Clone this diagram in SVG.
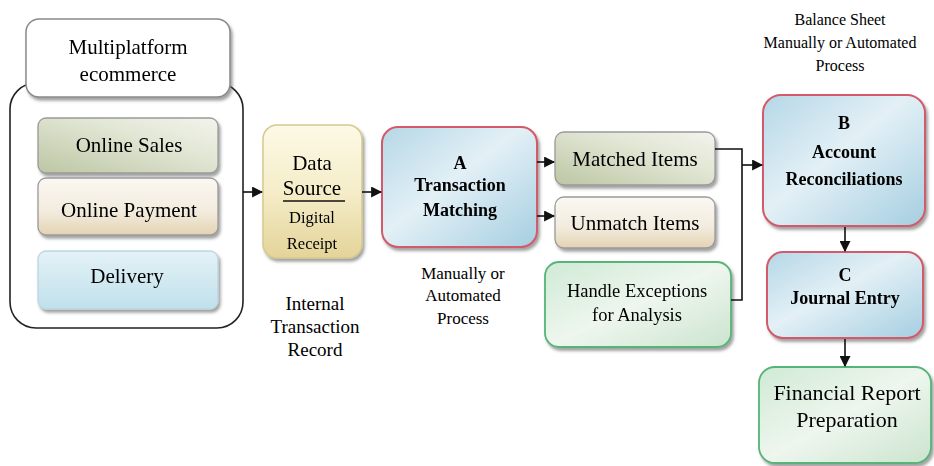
<svg xmlns="http://www.w3.org/2000/svg" width="934" height="466" viewBox="0 0 934 466">
  <style>
    text { font-family: "Liberation Serif", "Times New Roman", serif; fill: #000; text-anchor: middle; }
    .b { font-weight: bold; }
    .conn { stroke: #111; stroke-width: 1.6; fill: none; }
    .box { filter: url(#sh); }
  </style>
  <defs>
    <filter id="sh" x="-10%" y="-10%" width="125%" height="130%">
      <feDropShadow dx="2" dy="3" stdDeviation="1.6" flood-color="#555" flood-opacity="0.55"/>
    </filter>
    <marker id="arr" viewBox="0 0 10 10" refX="9" refY="5" markerWidth="11" markerHeight="11" markerUnits="userSpaceOnUse" orient="auto">
      <path d="M0,0 L10,5 L0,10 Z" fill="#111"/>
    </marker>
    <linearGradient id="gGreenGray" x1="0" y1="1" x2="1" y2="0">
      <stop offset="0" stop-color="#bcc6a3"/>
      <stop offset="0.6" stop-color="#e1e6d4"/>
      <stop offset="1" stop-color="#f3f3ec"/>
    </linearGradient>
    <linearGradient id="gBeige" x1="0" y1="0" x2="0" y2="1">
      <stop offset="0" stop-color="#fbf8f3"/>
      <stop offset="0.6" stop-color="#f2ebdd"/>
      <stop offset="1" stop-color="#e3d3b3"/>
    </linearGradient>
    <linearGradient id="gLightBlue" x1="0" y1="0" x2="0" y2="1">
      <stop offset="0" stop-color="#e4f2f7"/>
      <stop offset="1" stop-color="#c0e0eb"/>
    </linearGradient>
    <linearGradient id="gYellow" x1="0" y1="0" x2="0" y2="1">
      <stop offset="0" stop-color="#fdf9e6"/>
      <stop offset="0.5" stop-color="#f5edc9"/>
      <stop offset="1" stop-color="#e4d499"/>
    </linearGradient>
    <linearGradient id="gBlue" x1="0" y1="0" x2="1" y2="1">
      <stop offset="0" stop-color="#b5d7e7"/>
      <stop offset="0.45" stop-color="#e3f0f6"/>
      <stop offset="1" stop-color="#a5cee1"/>
    </linearGradient>
    <linearGradient id="gGreen" x1="0" y1="0" x2="1" y2="1">
      <stop offset="0" stop-color="#d0ead5"/>
      <stop offset="0.5" stop-color="#eef6ee"/>
      <stop offset="1" stop-color="#cbe4ce"/>
    </linearGradient>
  </defs>

  <!-- Multiplatform container -->
  <g id="container">
    <rect x="10" y="83" width="233" height="245" rx="26" fill="#fff" stroke="#222" stroke-width="1.6"/>
  </g>
  <g id="multiplatform" class="box">
    <rect x="26" y="19" width="204" height="78" rx="13" fill="#fff" stroke="#8a8a8a" stroke-width="1.5"/>
    <text x="128" y="54" font-size="21">Multiplatform</text>
    <text x="128" y="81" font-size="21">ecommerce</text>
  </g>
  <g id="online-sales" class="box">
    <rect x="38" y="118" width="180" height="55" rx="8" fill="url(#gGreenGray)" stroke="#9a9a9a" stroke-width="1.3"/>
    <text x="129" y="152" font-size="21">Online Sales</text>
  </g>
  <g id="online-payment" class="box">
    <rect x="38" y="178" width="180" height="57" rx="8" fill="url(#gBeige)" stroke="#9a9a9a" stroke-width="1.3"/>
    <text x="129" y="217" font-size="21">Online Payment</text>
  </g>
  <g id="delivery" class="box">
    <rect x="38" y="251" width="180" height="58" rx="8" fill="url(#gLightBlue)" stroke="#bcd6e0" stroke-width="1.3"/>
    <text x="127" y="283" font-size="21">Delivery</text>
  </g>

  <!-- Data Source -->
  <g id="data-source" class="box">
    <rect x="263" y="125" width="99" height="133" rx="14" fill="url(#gYellow)" stroke="#d6c98f" stroke-width="1.5"/>
    <text x="312" y="170" font-size="21">Data</text>
    <text x="312" y="195" font-size="21">Source</text>
    <line x1="283" y1="201" x2="345" y2="201" stroke="#111" stroke-width="1.3"/>
    <text x="312" y="223" font-size="16.5">Digital</text>
    <text x="312" y="249" font-size="16.5">Receipt</text>
  </g>
  <g id="label-internal">
    <text x="315" y="310" font-size="19">Internal</text>
    <text x="315" y="333" font-size="19">Transaction</text>
    <text x="315" y="356" font-size="19">Record</text>
  </g>

  <!-- Transaction Matching -->
  <g id="transaction-matching" class="box">
    <rect x="382" y="127" width="155" height="120" rx="16" fill="url(#gBlue)" stroke="#d25a6a" stroke-width="2"/>
    <text class="b" x="460" y="169" font-size="18">A</text>
    <text class="b" x="460" y="191" font-size="18">Transaction</text>
    <text class="b" x="460" y="216" font-size="18">Matching</text>
  </g>
  <g id="label-manual-a">
    <text x="463" y="279" font-size="17">Manually or</text>
    <text x="463" y="301" font-size="17">Automated</text>
    <text x="463" y="324" font-size="17">Process</text>
  </g>

  <!-- Matched / Unmatched / Exceptions -->
  <g id="matched-items" class="box">
    <rect x="555" y="132" width="160" height="53" rx="9" fill="url(#gGreenGray)" stroke="#9a9a9a" stroke-width="1.3"/>
    <text x="635" y="166" font-size="21">Matched Items</text>
  </g>
  <g id="unmatch-items" class="box">
    <rect x="555" y="197" width="160" height="51" rx="9" fill="url(#gBeige)" stroke="#9a9a9a" stroke-width="1.3"/>
    <text x="635" y="230" font-size="21">Unmatch Items</text>
  </g>
  <g id="handle-exceptions" class="box">
    <rect x="545" y="262" width="186" height="85" rx="14" fill="url(#gGreen)" stroke="#55b478" stroke-width="1.8"/>
    <text x="637" y="297" font-size="18.5">Handle Exceptions</text>
    <text x="637" y="321" font-size="18.5">for Analysis</text>
  </g>

  <!-- Right column -->
  <g id="label-balance">
    <text x="840" y="25" font-size="16">Balance Sheet</text>
    <text x="840" y="48" font-size="16">Manually or Automated</text>
    <text x="840" y="71" font-size="16">Process</text>
  </g>
  <g id="account-reconciliations" class="box">
    <rect x="763" y="95" width="162" height="131" rx="18" fill="url(#gBlue)" stroke="#d25a6a" stroke-width="2"/>
    <text class="b" x="844" y="129" font-size="18">B</text>
    <text class="b" x="844" y="158" font-size="18">Account</text>
    <text class="b" x="844" y="185" font-size="18">Reconciliations</text>
  </g>
  <g id="journal-entry" class="box">
    <rect x="767" y="252" width="156" height="86" rx="16" fill="url(#gBlue)" stroke="#d25a6a" stroke-width="2"/>
    <text class="b" x="845" y="281" font-size="18">C</text>
    <text class="b" x="845" y="304" font-size="18">Journal Entry</text>
  </g>
  <g id="financial-report" class="box">
    <rect x="759" y="367" width="172" height="96" rx="16" fill="url(#gGreen)" stroke="#55b478" stroke-width="1.8"/>
    <text x="847" y="400" font-size="22">Financial Report</text>
    <text x="847" y="427" font-size="22">Preparation</text>
  </g>

  <!-- Connectors -->
  <g id="connectors">
    <line class="conn" x1="243" y1="192" x2="262" y2="192" marker-end="url(#arr)"/>
    <line class="conn" x1="362" y1="192" x2="381" y2="192" marker-end="url(#arr)"/>
    <line class="conn" x1="537" y1="162" x2="554" y2="162" marker-end="url(#arr)"/>
    <line class="conn" x1="537" y1="216" x2="554" y2="216" marker-end="url(#arr)"/>
    <polyline class="conn" points="715,149 742,149 742,300 731,300"/>
    <line class="conn" x1="742" y1="165" x2="762" y2="165" marker-end="url(#arr)"/>
    <line class="conn" x1="845" y1="227" x2="845" y2="251" marker-end="url(#arr)"/>
    <line class="conn" x1="845" y1="339" x2="845" y2="366" marker-end="url(#arr)"/>
  </g>
</svg>
